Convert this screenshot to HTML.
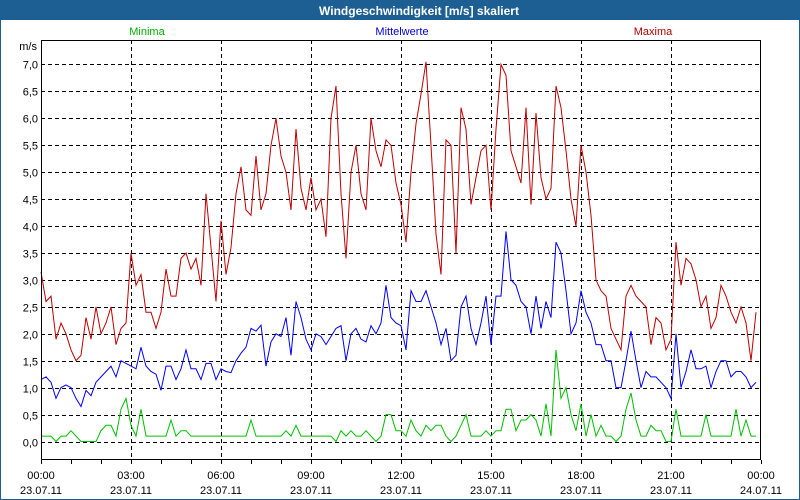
<!DOCTYPE html>
<html><head><meta charset="utf-8"><style>
body{margin:0;background:#fff;}
#wrap{position:relative;width:800px;height:500px;overflow:hidden;background:#fff;box-sizing:border-box;border:1px solid #1d5f92;border-top:none;}
svg text{font-family:"Liberation Sans","DejaVu Sans",sans-serif;}
</style></head><body>
<div id="wrap">
<svg id="chart" width="800" height="500" viewBox="0 0 800 500">
<rect x="0" y="0" width="800" height="20" fill="#1d5f92"/>
<text x="418" y="15" fill="#fff" font-size="12" font-weight="bold" text-anchor="middle">Windgeschwindigkeit [m/s] skaliert</text>
<text x="146" y="35" fill="#00b000" font-size="11" text-anchor="middle">Minima</text>
<text x="401" y="35" fill="#0000dd" font-size="11" text-anchor="middle">Mittelwerte</text>
<text x="652" y="35" fill="#b00000" font-size="11" text-anchor="middle">Maxima</text>
<text x="36" y="50" fill="#000" font-size="11" text-anchor="end">m/s</text>
<g id="grid"></g><g id="series"></g><g id="axes"></g>
</svg>
</div>
<script>
const minima=[.1,.1,.1,0,.1,.1,.2,.1,0,0,0,0,.2,.3,.3,.1,.6,.8,.3,.1,.6,.1,.1,.1,.1,.1,.4,.1,.2,.2,.1,.1,.1,.1,.1,.1,.1,.1,.1,.1,.1,.1,.4,.1,.1,.1,.1,.1,.1,.2,.1,.3,.1,.1,.1,.1,.1,.1,.1,0,.2,.1,.2,.1,.1,.2,.1,0,.1,.5,.5,.2,.2,.1,.4,.2,.1,.3,.2,.3,.3,.1,0,.1,.3,.5,.1,.1,.1,.2,.1,.2,.2,.6,.6,.2,.4,.4,.5,.4,.1,.7,.1,1.7,.8,1.0,.5,.2,.7,.1,.5,.1,.3,.1,.1,0,.1,.6,.9,.4,.1,.1,.3,.2,.2,0,0,.6,.1,.1,.1,.1,.1,.5,.1,.1,.1,.1,.1,.6,.1,.4,.1,.1];
const mittel=[1.15,1.2,1.1,.8,1.0,1.05,1.0,.8,.65,.95,.85,1.1,1.2,1.3,1.4,1.2,1.5,1.45,1.4,1.35,1.75,1.4,1.3,1.25,.95,1.4,1.4,1.15,1.35,1.7,1.35,1.35,1.15,1.45,1.45,1.15,1.35,1.3,1.28,1.5,1.64,1.75,2.1,2.05,2.16,1.4,1.85,2.0,1.95,2.3,1.6,2.6,2.3,1.9,1.7,2.0,1.95,1.8,1.95,2.1,2.15,1.5,2.0,2.1,1.9,1.85,2.15,2.0,2.2,2.9,2.3,2.2,2.15,1.7,2.8,2.6,2.6,2.8,2.5,2.2,1.8,2.1,1.5,1.6,2.5,2.7,2.1,1.8,2.2,2.7,1.8,2.7,2.7,3.9,3.0,2.9,2.6,2.5,2.0,2.7,2.1,2.6,2.3,3.7,3.5,2.8,2.0,2.2,2.8,2.4,2.2,1.8,1.8,1.5,1.5,1.0,1.0,1.5,2.05,1.5,1.0,1.3,1.2,1.2,1.1,1.0,.8,2.0,1.0,1.3,1.7,1.35,1.35,1.4,1.0,1.3,1.5,1.5,1.2,1.3,1.3,1.2,1.0,1.1];
const maxima=[3.15,2.6,2.7,1.9,2.2,2.0,1.7,1.5,1.6,2.3,1.9,2.5,2.0,2.2,2.5,1.8,2.1,2.2,3.5,2.9,3.1,2.4,2.4,2.1,2.4,3.2,2.7,2.7,3.4,3.5,3.2,3.4,2.9,4.6,3.6,2.6,4.1,3.1,3.6,4.6,5.1,4.3,4.2,5.3,4.3,4.6,5.5,6.0,5.3,5.0,4.3,5.8,4.7,4.3,4.9,4.3,4.5,3.8,6.0,6.6,4.6,3.4,5.0,5.5,4.6,4.3,6.0,5.4,5.1,5.6,5.5,4.8,4.4,3.7,5.0,5.9,6.45,7.05,5.5,3.85,3.1,5.6,5.5,3.5,6.2,5.8,4.4,4.9,5.4,5.5,4.3,5.8,7.0,6.8,5.4,5.1,4.8,6.2,4.4,6.1,4.9,4.5,4.7,6.6,6.2,5.4,4.5,4.0,5.5,5.0,4.2,3.0,2.8,2.7,2.1,1.9,1.7,2.7,2.9,2.7,2.6,2.5,1.8,2.3,2.2,1.7,1.9,3.7,2.9,3.4,3.3,3.0,2.5,2.7,2.1,2.3,2.9,2.7,2.4,2.2,2.5,2.2,1.5,2.4];
const yTicks=["0,0","0,5","1,0","1,5","2,0","2,5","3,0","3,5","4,0","4,5","5,0","5,5","6,0","6,5","7,0"];
const xTimes=["00:00","03:00","06:00","09:00","12:00","15:00","18:00","21:00","00:00"];
const xDates=["23.07.11","23.07.11","23.07.11","23.07.11","23.07.11","23.07.11","23.07.11","23.07.11","24.07.11"];
const L=40,R=760,T=40,B=460;
const yS=v=>441.5-v*53.86;
const xS=m=>L+m*(R-L)/1440;
const NS="http://www.w3.org/2000/svg";
function mk(tag,attrs,parent){const e=document.createElementNS(NS,tag);for(const k in attrs)e.setAttribute(k,attrs[k]);parent.appendChild(e);return e;}
const grid=document.getElementById('grid'),ser=document.getElementById('series'),ax=document.getElementById('axes');
yTicks.forEach((t,i)=>{const y=Math.round(yS(i*0.5))+0.5;
 const g=mk('line',{x1:L,x2:R,y1:y,y2:y,stroke:'#000','stroke-width':1,'stroke-dasharray':'4,3'},grid);
 
 
 const tx=mk('text',{x:37,y:y+4,'font-size':11,'text-anchor':'end',fill:'#000'},ax);tx.textContent=t;
 
 
});
for(let h=0;h<=24;h++){const x=Math.round(xS(h*60))+0.5;
 if(h%3===0&&h>0&&h<24){const g=mk('line',{x1:x,x2:x,y1:T,y2:B,stroke:'#000','stroke-width':1,'stroke-dasharray':'4,3'},grid);
  
  }
 const tk=mk('line',{x1:x,x2:x,y1:B,y2:B+4,stroke:'#000'},ax);
 
 
}
xTimes.forEach((t,i)=>{const x=xS(i*180);
 const a=mk('text',{x:x,y:479,'font-size':11,'text-anchor':'middle'},ax);a.textContent=t;
 
 
 const b=mk('text',{x:x,y:494,'font-size':11,'text-anchor':'middle'},ax);b.textContent=xDates[i];
 
 
});
const fr=mk('rect',{x:L+0.5,y:T+0.5,width:R-L-1,height:B-T-1,fill:'none',stroke:'#000','stroke-width':1},ax);


function line(arr,color,name){const pts=arr.map((v,i)=>xS(i*10).toFixed(1)+','+yS(v).toFixed(1)).join(' ');
 const p=mk('polyline',{points:pts,fill:'none',stroke:color,'stroke-width':1},ser);
 
 }
line(minima,'#00c000','minima-line');
line(mittel,'#0000ff','mittelwerte-line');
line(maxima,'#c00000','maxima-line');
</script>
</body></html>
